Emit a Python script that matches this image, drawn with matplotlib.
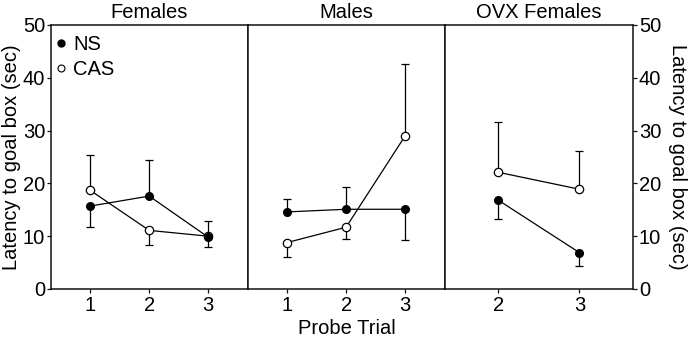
import matplotlib
matplotlib.use("Agg")
import matplotlib.pyplot as plt
from matplotlib.lines import Line2D
import numpy as np

plt.rcParams['font.family'] = ['Liberation Sans', 'DejaVu Sans']
FS = 14.5
plt.rcParams['font.size'] = FS

# ---- data ----
panel_titles = ["Females", "Males", "OVX Females"]
trials_f = [1, 2, 3]
trials_m = [1, 2, 3]
trials_ovx = [2, 3]

ns_f = [15.7, 17.6, 9.8]
ns_f_lo = [4.0, 0.0, 1.8]
ns_f_hi = [0.0, 6.8, 3.0]
cas_f = [18.7, 11.1, 10.0]
cas_f_lo = [0.0, 2.8, 0.0]
cas_f_hi = [6.6, 0.0, 0.0]

ns_m = [14.6, 15.1, 15.1]
ns_m_lo = [0.0, 0.0, 5.8]
ns_m_hi = [2.5, 4.2, 0.0]
cas_m = [8.8, 11.7, 29.0]
cas_m_lo = [2.8, 2.2, 0.0]
cas_m_hi = [0.0, 0.0, 13.6]

ns_ovx = [16.8, 6.9]
ns_ovx_lo = [3.5, 2.5]
ns_ovx_hi = [0.0, 0.0]
cas_ovx = [22.1, 18.9]
cas_ovx_lo = [0.0, 0.0]
cas_ovx_hi = [9.5, 7.2]

yticks = [0, 10, 20, 30, 40, 50]
ylabel = "Latency to goal box (sec)"
xlabel = "Probe Trial"

W, H = 688, 339
fig = plt.figure(figsize=(W / 100, H / 100), dpi=100)

def fx(px):
    return px / W

def fy(py):
    return 1 - py / H

top, bot = 25, 289
panels_px = [(50.7, 247.7), (247.7, 444.5), (444.5, 633.3)]
xlims = [(1/3, 11/3), (1/3, 11/3), (4/3, 11/3)]
data = [
    (trials_f, ns_f, ns_f_lo, ns_f_hi, cas_f, cas_f_lo, cas_f_hi),
    (trials_m, ns_m, ns_m_lo, ns_m_hi, cas_m, cas_m_lo, cas_m_hi),
    (trials_ovx, ns_ovx, ns_ovx_lo, ns_ovx_hi, cas_ovx, cas_ovx_lo, cas_ovx_hi),
]

col = '#111111'
LW = 0.9
CAP = 5.5

def one_sided(ax, x, y, lo, hi):
    x = np.asarray(x, float); y = np.asarray(y, float)
    lo = np.asarray(lo, float); hi = np.asarray(hi, float)
    for err, sign in ((lo, -1), (hi, 1)):
        m = err > 0
        if m.any():
            ends = y[m] + sign * err[m]
            ax.vlines(x[m], y[m], ends, colors='black', lw=LW, zorder=1)
            ax.plot(x[m], ends, ls='none', marker='_', ms=CAP, mew=LW,
                    color='black', zorder=1)

for i, ((l, r), xl, d) in enumerate(zip(panels_px, xlims, data)):
    ax = fig.add_axes([fx(l), fy(bot), fx(r - l), (bot - top) / H])
    x, ns, nlo, nhi, cas, clo, chi = d
    one_sided(ax, x, ns, nlo, nhi)
    one_sided(ax, x, cas, clo, chi)
    ax.plot(x, ns, '-o', color='black', mfc='black', mec='black', ms=5.5,
            lw=LW, zorder=3)
    ax.plot(x, cas, '-o', color='black', mfc='white', mec='black', ms=6,
            mew=0.9, lw=LW, zorder=2)
    ax.set_xlim(*xl)
    ax.set_ylim(0, 50)
    ax.set_xticks(x)
    ax.set_title(panel_titles[i], fontsize=FS, pad=5)
    for s in ax.spines.values():
        s.set_color(col)
        s.set_linewidth(1.1)
    ax.tick_params(axis='x', length=3, width=0.9, pad=2, color=col, labelsize=FS)
    if i == 0:
        ax.set_yticks(yticks)
        ax.tick_params(axis='y', length=3, width=0.9, pad=1, color=col, labelsize=FS)
        ax.set_ylabel(ylabel, fontsize=FS, labelpad=1)
        hh = [Line2D([], [], marker='o', ls='none', color='black', mfc='black', ms=5),
              Line2D([], [], marker='o', ls='none', color='black', mfc='white', ms=5, mew=0.8)]
        ax.legend(hh, ['NS', 'CAS'], loc='upper left',
                  bbox_to_anchor=(fx(55 - l) / fx(r - l), 1 - (35 - top) / (bot - top)),
                  frameon=False, handlelength=0.6, handletextpad=0.3,
                  borderaxespad=0.0, labelspacing=0.3, borderpad=0.0, fontsize=FS)
    elif i == 1:
        ax.set_yticks([])
    else:
        ax.yaxis.tick_right()
        ax.yaxis.set_label_position('right')
        ax.set_yticks(yticks)
        ax.tick_params(axis='y', length=3, width=0.9, pad=1, color=col, labelsize=FS)
        ax.set_ylabel(ylabel, fontsize=FS, rotation=270, va='bottom', labelpad=5)

fig.text(fx(347), fy(328), xlabel, ha='center', va='center', fontsize=FS)

fig.savefig('out.png', dpi=100)
